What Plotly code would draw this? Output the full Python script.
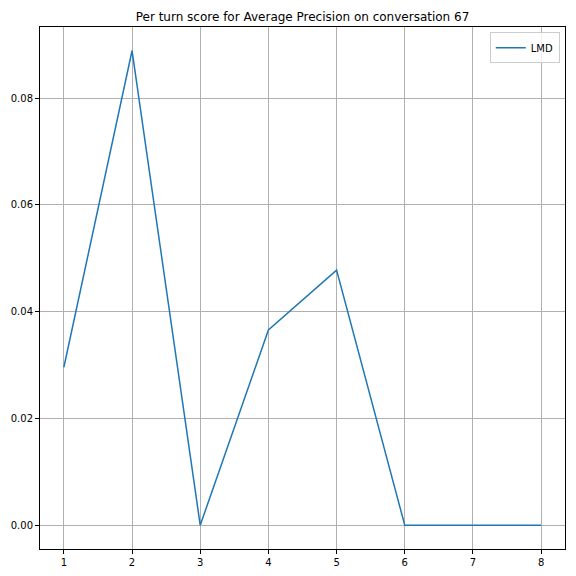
import plotly.graph_objects as go

turns = [1, 2, 3, 4, 5, 6, 7, 8]
lmd_scores = [0.0296, 0.0889, 0.0, 0.0366, 0.0478, 0.0, 0.0, 0.0]
x_ticks = [1, 2, 3, 4, 5, 6, 7, 8]
y_ticks = [0.0, 0.02, 0.04, 0.06, 0.08]

fig = go.Figure()
fig.add_trace(go.Scatter(x=turns, y=lmd_scores, mode="lines", name="LMD",
                         line=dict(color="#1f77b4", width=1.5)))

ymax = max(lmd_scores); ymin = min(lmd_scores)
pad = (ymax - ymin) * 0.05
W = 568
fig.update_layout(
    width=W, height=W,
    paper_bgcolor="white", plot_bgcolor="white",
    margin=dict(l=32, r=11, t=19, b=27, autoexpand=False),
    font=dict(family="DejaVu Sans", size=10, color="black"),
    title=dict(text="Per turn score for Average Precision on conversation 67",
               x=0.5, xanchor="center", xref="paper", y=1 - 9/W, yanchor="middle",
               font=dict(size=12), automargin=False),
    showlegend=True,
    legend=dict(x=0.99, y=0.99, xanchor="right", yanchor="top",
                bordercolor="#cccccc", borderwidth=1, bgcolor="rgba(255,255,255,0.8)",
                font=dict(size=10)),
    xaxis=dict(range=[1 - 0.35, 8 + 0.35], tickvals=x_ticks, showgrid=True,
               gridcolor="#b0b0b0", gridwidth=1, showline=True, linecolor="black",
               linewidth=1, mirror=True, ticks="outside", ticklen=4, tickcolor="black",
               zeroline=False, automargin=False),
    yaxis=dict(range=[ymin - pad, ymax + pad], tickvals=y_ticks, tickformat=".2f",
               showgrid=True, gridcolor="#b0b0b0", gridwidth=1, showline=True,
               linecolor="black", linewidth=1, mirror=True, ticks="outside",
               ticklen=4, tickcolor="black", zeroline=False, automargin=False),
)
fig.write_html("out.html")
